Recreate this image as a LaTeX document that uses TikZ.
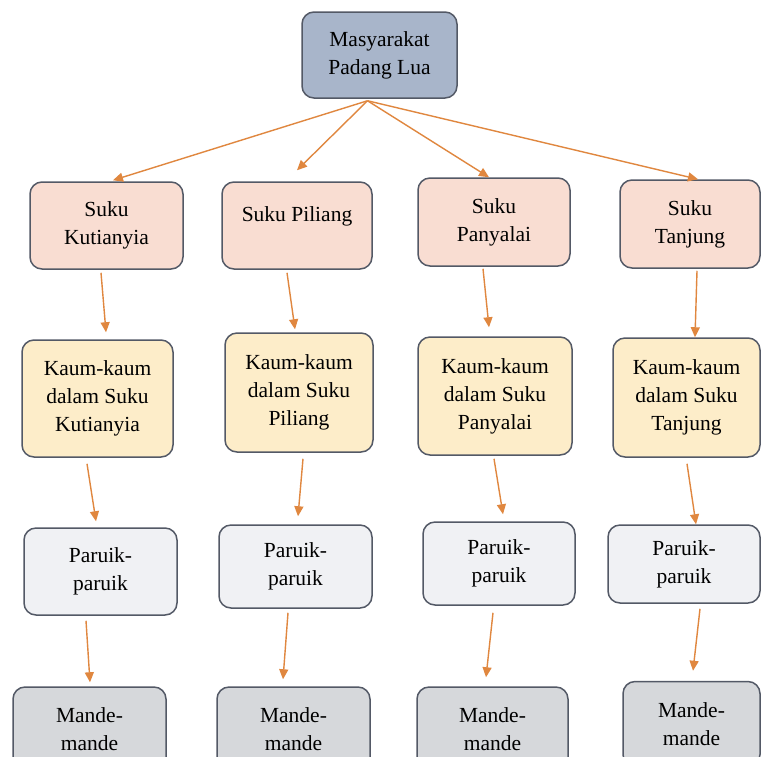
\documentclass[tikz,border=0pt]{standalone}
\usepackage{fontspec}
\setmainfont{Liberation Serif}
\usetikzlibrary{calc,arrows.meta}
\definecolor{bordercol}{HTML}{535966}
\definecolor{topfill}{HTML}{A8B5CA}
\definecolor{sukufill}{HTML}{F9DDD2}
\definecolor{kaumfill}{HTML}{FDEDC9}
\definecolor{paruikfill}{HTML}{F0F1F4}
\definecolor{mandefill}{HTML}{D6D8DB}
\definecolor{arrowcol}{HTML}{E0873F}
\tikzset{
  box/.style={draw=bordercol, line width=1.5pt, rounded corners=12pt, align=center, inner sep=0pt,
    text=black, font=\fontsize{21.5}{28}\selectfont},
  topbox/.style={box, fill=topfill},
  sukubox/.style={box, fill=sukufill},
  kaumbox/.style={box, fill=kaumfill},
  paruikbox/.style={box, fill=paruikfill},
  mandebox/.style={box, fill=mandefill},
  link/.style={draw=arrowcol, line width=1.4pt, -{Triangle[length=10pt,width=9pt]}}
}
\begin{document}
\begin{tikzpicture}[x=1pt,y=-1pt]
\useasboundingbox[fill=white] (0,0) rectangle (762,756);
% top
\node[topbox, minimum width=155pt, minimum height=86pt] (top) at (379.5,55) {Masyarakat\\Padang Lua};
% suku
\node[sukubox, minimum width=153pt, minimum height=87pt] (s1) at (106.5,225.5) {Suku\\Kutianyia};
\node[sukubox, minimum width=150pt, minimum height=87pt] (s2) at (297,225.5) {};
\node[font=\fontsize{21.5}{28}\selectfont, text=black] (s2t) at (297,216) {Suku Piliang};
\node[sukubox, minimum width=152pt, minimum height=88pt] (s3) at (494,222) {Suku\\Panyalai};
\node[sukubox, minimum width=140pt, minimum height=88pt] (s4) at (690,224) {Suku\\Tanjung};
% kaum
\node[kaumbox, minimum width=151pt, minimum height=117pt] (k1) at (97.5,398.5) {Kaum-kaum\\dalam Suku\\Kutianyia};
\node[kaumbox, minimum width=148pt, minimum height=119pt] (k2) at (299,392.5) {Kaum-kaum\\dalam Suku\\Piliang};
\node[kaumbox, minimum width=154pt, minimum height=118pt] (k3) at (495,396) {Kaum-kaum\\dalam Suku\\Panyalai};
\node[kaumbox, minimum width=147pt, minimum height=119pt] (k4) at (686.5,397.5) {Kaum-kaum\\dalam Suku\\Tanjung};
% paruik
\node[paruikbox, minimum width=153pt, minimum height=87pt] (p1) at (100.5,571.5) {Paruik-\\paruik};
\node[paruikbox, minimum width=153pt, minimum height=83pt] (p2) at (295.5,566.5) {Paruik-\\paruik};
\node[paruikbox, minimum width=152pt, minimum height=83pt] (p3) at (499,563.5) {Paruik-\\paruik};
\node[paruikbox, minimum width=152pt, minimum height=78pt] (p4) at (684,564) {Paruik-\\paruik};
% mande
\node[mandebox, minimum width=153pt, minimum height=85pt] (m1) at (89.5,729.5) {Mande-\\mande};
\node[mandebox, minimum width=153pt, minimum height=85pt] (m2) at (293.5,729.5) {Mande-\\mande};
\node[mandebox, minimum width=151pt, minimum height=85pt] (m3) at (492.5,729.5) {Mande-\\mande};
\node[mandebox, minimum width=137pt, minimum height=85pt] (m4) at (691.5,724) {Mande-\\mande};
% arrows top -> suku
\draw[link] ($(top.south)+(-12,2)$) -- ($(s1.north)+(6.5,-1)$);
\draw[link] ($(top.south)+(-12,2)$) -- ($(s2.north)+(0,-11)$);
\draw[link] ($(top.south)+(-12,2)$) -- ($(s3.north)+(-5,0)$);
\draw[link] ($(top.south)+(-12,2)$) -- ($(s4.north)+(8,0)$);
% suku -> kaum
\draw[link] ($(s1.south)+(-5.5,3)$) -- ($(k1.north)+(8.5,-7)$);
\draw[link] ($(s2.south)+(-10,3)$) -- ($(k2.north)+(-4,-3)$);
\draw[link] ($(s3.south)+(-11,2)$) -- ($(k3.north)+(-6,-9)$);
\draw[link] ($(s4.south)+(7,2)$) -- ($(k4.north)+(8.5,0)$);
% kaum -> paruik
\draw[link] ($(k1.south)+(-10.5,6)$) -- ($(p1.north)+(-4.5,-6)$);
\draw[link] ($(k2.south)+(4,6)$) -- ($(p2.north)+(2.5,-8)$);
\draw[link] ($(k3.south)+(-1,3)$) -- ($(p3.north)+(4,-7)$);
\draw[link] ($(k4.south)+(0.5,6)$) -- ($(p4.north)+(12,0)$);
% paruik -> mande
\draw[link] ($(p1.south)+(-14.5,5)$) -- ($(m1.north)+(0.5,-4)$);
\draw[link] ($(p2.south)+(-7.5,4)$) -- ($(m2.north)+(-10.5,-7)$);
\draw[link] ($(p3.south)+(-6,7)$) -- ($(m3.north)+(-6.5,-9)$);
\draw[link] ($(p4.south)+(16,5)$) -- ($(m4.north)+(1.5,-10)$);
\end{tikzpicture}
\end{document}
